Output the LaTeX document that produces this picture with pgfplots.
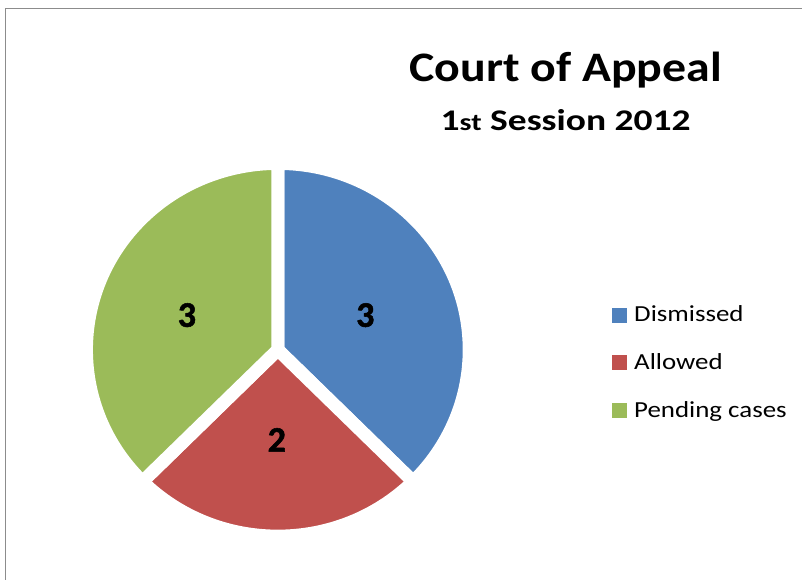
\documentclass[border=0pt]{standalone}
\usepackage{graphicx}
\usepackage{pgfplots}
\usepackage{pgfplotstable}
\pgfplotsset{compat=1.18}
\usepackage{fontspec}
\setmainfont{Carlito}
\newfontfamily\numfont[FakeBold=1.5]{Carlito Bold}
\definecolor{sblue}{HTML}{4F81BD}
\definecolor{sred}{HTML}{C0504D}
\definecolor{sgreen}{HTML}{9BBB59}
\pgfplotstableread{
label value
Dismissed 3
Allowed 2
Pending 3
}\piedata
\pgfplotstablegetelem{0}{value}\of\piedata \edef\pieA{\pgfplotsretval}
\pgfplotstablegetelem{1}{value}\of\piedata \edef\pieB{\pgfplotsretval}
\pgfplotstablegetelem{2}{value}\of\piedata \edef\pieC{\pgfplotsretval}
\pgfmathsetmacro{\tot}{\pieA+\pieB+\pieC}
\pgfmathsetmacro{\aA}{90}
\pgfmathsetmacro{\aB}{90-360*\pieA/\tot}
\pgfmathsetmacro{\aC}{\aB-360*\pieB/\tot}
\pgfmathsetmacro{\aD}{\aC-360*\pieC/\tot}
\begin{document}
\begin{tikzpicture}
\begin{axis}[
  scale only axis, width=802pt, height=580pt,
  xmin=0, xmax=802, ymin=0, ymax=580,
  hide axis, clip=false,
  legend style={at={(axis cs:612,276)}, anchor=north west, draw=none, fill=none,
    font=\fontsize{23}{27}\selectfont, row sep=26.5pt, inner sep=0pt},
  legend cell align=left,
]
\path (axis cs:0,0) rectangle (axis cs:802,580);
\draw[gray!90, line width=1pt] (axis cs:5.5,0) -- (axis cs:5.5,571) -- (axis cs:802,571);
\fill[sblue, draw=white, line width=13pt, line join=round] (axis cs:278,230) -- ++(\aA:191.5pt and 186.5pt) arc[start angle=\aA, end angle=\aB, x radius=191.5pt, y radius=186.5pt] -- cycle;
\fill[sred, draw=white, line width=13pt, line join=round] (axis cs:278,230) -- ++(\aB:191.5pt and 186.5pt) arc[start angle=\aB, end angle=\aC, x radius=191.5pt, y radius=186.5pt] -- cycle;
\fill[sgreen, draw=white, line width=13pt, line join=round] (axis cs:278,230) -- ++(\aC:191.5pt and 186.5pt) arc[start angle=\aC, end angle=\aD, x radius=191.5pt, y radius=186.5pt] -- cycle;
\node[anchor=base, inner sep=0pt, font=\numfont\fontsize{36}{40}\selectfont] at (axis cs:365.5,253) {\pieA};
\node[anchor=base, inner sep=0pt, font=\numfont\fontsize{36}{40}\selectfont] at (axis cs:277,128) {\pieB};
\node[anchor=base, inner sep=0pt, font=\numfont\fontsize{36}{40}\selectfont] at (axis cs:187,253) {\pieC};
\node[anchor=base, inner sep=0pt, font=\bfseries\fontsize{42}{48}\selectfont] at (axis cs:566,498) {\scalebox{1.14}[1]{Court of Appeal}};
\node[anchor=base, inner sep=0pt, font=\bfseries\fontsize{30}{36}\selectfont] at (axis cs:566,449) {\scalebox{1.25}[1]{1{\fontsize{24}{28}\selectfont st} Session 2012}};
\addlegendimage{legend image code/.code={\fill[sblue] (0pt,-7pt) rectangle (14pt,7pt); \path (20pt,0pt);}}
\addlegendentry{\scalebox{1.17}[1]{Dismissed}}
\addlegendimage{legend image code/.code={\fill[sred] (0pt,-7pt) rectangle (14pt,7pt); \path (20pt,0pt);}}
\addlegendentry{\scalebox{1.17}[1]{Allowed}}
\addlegendimage{legend image code/.code={\fill[sgreen] (0pt,-7pt) rectangle (14pt,7pt); \path (20pt,0pt);}}
\addlegendentry{\scalebox{1.17}[1]{Pending cases}}
\end{axis}
\end{tikzpicture}
\end{document}
